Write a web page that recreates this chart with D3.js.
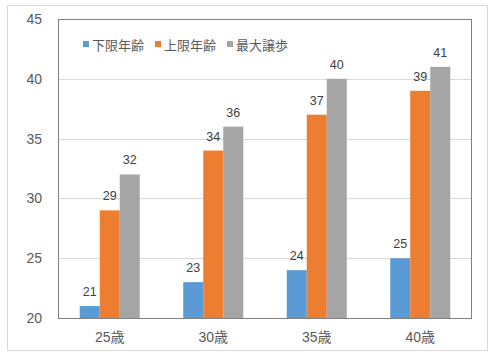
<!DOCTYPE html>
<html><head><meta charset="utf-8">
<script src="https://cdn.jsdelivr.net/npm/d3@7"></script>
<style>body{margin:0;background:#fff;}svg{display:block;font-family:"Liberation Sans","Noto Sans CJK JP",sans-serif;}</style>
</head><body><svg id="c" width="493" height="356"></svg>
<script>
const categories = ["25歳","30歳","35歳","40歳"];
const seriesNames = ["下限年齢","上限年齢","最大譲歩"];
const lower = [21,23,24,25];
const upper = [29,34,37,39];
const maxConcession = [32,36,40,41];
const yTicks = [20,25,30,35,40,45];
const colors = ["#5B9BD5","#ED7D31","#A5A5A5"];

const series = [lower, upper, maxConcession];
const svg = d3.select("#c");
svg.append("rect").attr("x",7.5).attr("y",5.5).attr("width",480).attr("height",345).attr("fill","#fff").attr("stroke","#d9d9d9");

const L=58, R=472, T=19, B=318;
const x = d3.scaleBand().domain(categories).range([L,R]).paddingInner(0.42).paddingOuter(0.21);
const x1 = d3.scaleBand().domain(d3.range(3)).range([0,x.bandwidth()]);
const y = d3.scaleLinear().domain([20,45]).range([B,T]);

// gridlines
svg.append("g").selectAll("line").data(yTicks.slice(1,-1)).join("line")
  .attr("x1",L).attr("x2",R).attr("y1",d=>Math.round(y(d))+0.5).attr("y2",d=>Math.round(y(d))+0.5)
  .attr("stroke","#d9d9d9");

// bars
series.forEach((vals,si)=>{
  const g = svg.append("g");
  g.selectAll("rect").data(vals).join("rect")
    .attr("x",(d,i)=>x(categories[i])+x1(si)).attr("width",x1.bandwidth())
    .attr("y",d=>y(d)).attr("height",d=>y(20)-y(d)).attr("fill",colors[si]);
  g.selectAll("text").data(vals).join("text")
    .attr("x",(d,i)=>x(categories[i])+x1(si)+x1.bandwidth()/2)
    .attr("y",d=>y(d)-10).attr("text-anchor","middle")
    .attr("font-size",12.5).attr("fill","#404040").text(d=>d);
});

// plot border
svg.append("rect").attr("x",L+0.5).attr("y",T+0.5).attr("width",R-L-1).attr("height",B-T).attr("fill","none").attr("stroke","#808080");

// y axis labels
const ya = svg.append("g").attr("transform",`translate(${L},0)`).call(d3.axisLeft(y).tickValues(yTicks).tickSize(0).tickPadding(16));
ya.select(".domain").remove();
ya.selectAll("text").attr("font-size",14).attr("fill","#595959").attr("font-family","Liberation Sans,sans-serif");

// x axis labels
const xa = svg.append("g").attr("transform",`translate(0,${B})`).call(d3.axisBottom(x).tickSize(0).tickPadding(14));
xa.select(".domain").remove();
xa.selectAll("text").attr("font-size",14).attr("fill","#595959").attr("font-family","Liberation Sans,Noto Sans CJK JP,sans-serif");

// legend
const lx = [83,155,227];
const lg = svg.append("g");
seriesNames.forEach((n,i)=>{
  lg.append("rect").attr("x",lx[i]).attr("y",41).attr("width",6).attr("height",6).attr("fill",colors[i]);
  lg.append("text").attr("x",lx[i]+9).attr("y",50).attr("font-size",13).attr("fill","#595959")
    .attr("font-family","Noto Sans CJK JP,sans-serif").text(n);
});
</script></body></html>
